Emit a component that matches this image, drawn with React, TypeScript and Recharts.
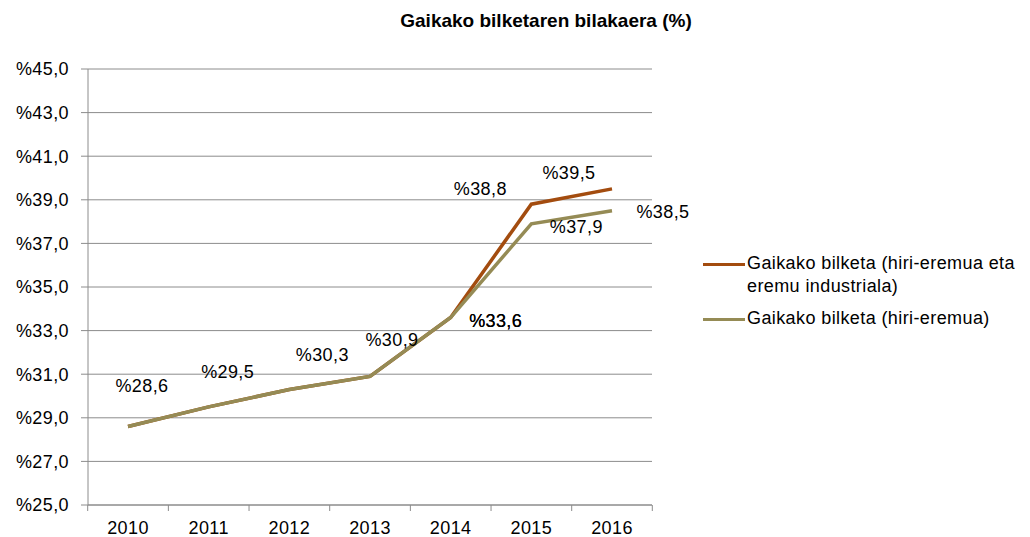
import React from 'react';
import { LineChart, Line, XAxis, YAxis, CartesianGrid, LabelList } from 'recharts';

const years = ['2010', '2011', '2012', '2013', '2014', '2015', '2016'];
const urbanIndustrial = [28.6, 29.5, 30.3, 30.9, 33.6, 38.8, 39.5];
const urbanOnly = [28.6, 29.5, 30.3, 30.9, 33.6, 37.9, 38.5];
const yTicks = [25, 27, 29, 31, 33, 35, 37, 39, 41, 43, 45];

const seriesNames = [
  ['Gaikako bilketa (hiri-eremua eta', 'eremu industriala)'],
  ['Gaikako bilketa (hiri-eremua)'],
];

const data = years.map((year, i) => ({ year, a: urbanIndustrial[i], b: urbanOnly[i] }));

const BROWN = '#a34c0f';
const OLIVE = '#958b55';
const GRID = '#8c8c8c';
const FONT = 'Arial, "Liberation Sans", sans-serif';
const LS = 0.4;
const HALF_BAND = 40.3;

// label offsets (dx, dy) from the point, by index
const offsetsA: ([number, number] | null)[] = [
  [14, -41], [19, -35], [33, -34], [22, -36], [45, 3], [-51, -15], [-43, -16],
];
const offsetsB: ([number, number] | null)[] = [
  null, null, null, null, [45, 3], [45, 3], [51, 1],
];

const fmt = (v: number) => '%' + v.toFixed(1).replace('.', ',');

const makeLabel = (offsets: ([number, number] | null)[]) => (props: any) => {
  const { x, y, value, index } = props;
  const off = offsets[index];
  if (!off) return null;
  return (
    <text
      x={x + off[0]}
      y={y + off[1]}
      textAnchor="middle"
      dominantBaseline="central"
      fontSize={18}
      letterSpacing={LS}
      fontFamily={FONT}
      fill="#000"
    >
      {fmt(value)}
    </text>
  );
};

const XTick = (props: any) => {
  const { x, y, payload, index } = props;
  return (
    <g>
      <line x1={x - HALF_BAND} y1={y} x2={x - HALF_BAND} y2={y + 6} stroke={GRID} />
      {index === years.length - 1 && (
        <line x1={x + HALF_BAND} y1={y} x2={x + HALF_BAND} y2={y + 6} stroke={GRID} />
      )}
      <text
        x={x}
        y={y + 29}
        textAnchor="middle"
        fontSize={18}
        letterSpacing={LS}
        fontFamily={FONT}
        fill="#000"
      >
        {payload.value}
      </text>
    </g>
  );
};

const LegendItem = ({ color, lines, top }: { color: string; lines: string[]; top: number }) => (
  <div style={{ position: 'absolute', left: 703, top, display: 'flex', alignItems: 'flex-start' }}>
    <div style={{ width: 42, height: 3, background: color, marginTop: 10, flexShrink: 0 }} />
    <div
      style={{
        marginLeft: 2,
        fontSize: 18,
        letterSpacing: LS,
        lineHeight: '23px',
        fontFamily: FONT,
        whiteSpace: 'nowrap',
        marginTop: -1,
      }}
    >
      {lines.map((l) => (
        <div key={l}>{l}</div>
      ))}
    </div>
  </div>
);

export default function App() {
  return (
    <div style={{ position: 'absolute', left: 0, top: 0, width: 1030, height: 537, background: '#fff', overflow: 'hidden' }}>
      <div
        style={{
          position: 'absolute',
          left: 0,
          width: 1092,
          top: 10,
          textAlign: 'center',
          fontFamily: FONT,
          fontWeight: 'bold',
          fontSize: 19,
        }}
      >
        Gaikako bilketaren bilakaera (%)
      </div>
      <LineChart
        width={1030}
        height={537}
        data={data}
        margin={{ top: 69, right: 378, bottom: 0, left: 0 }}
      >
        <CartesianGrid vertical={false} stroke={GRID} />
        <XAxis
          dataKey="year"
          height={32}
          padding={{ left: 40, right: 40 }}
          stroke={GRID}
          tickLine={false}
          tickSize={0}
          tickMargin={0}
          interval={0}
          tick={<XTick />}
        />
        <YAxis
          width={88}
          domain={[25, 45]}
          ticks={yTicks}
          interval={0}
          stroke={GRID}
          tickSize={7}
          tickMargin={12}
          tickFormatter={fmt}
          tick={{ fill: '#000', fontSize: 18, fontFamily: FONT, letterSpacing: LS }}
        />
        <Line
          type="linear"
          dataKey="a"
          stroke={BROWN}
          strokeWidth={3.5}
          dot={false}
          isAnimationActive={false}
        >
          <LabelList dataKey="a" content={makeLabel(offsetsA)} />
        </Line>
        <Line
          type="linear"
          dataKey="b"
          stroke={OLIVE}
          strokeWidth={3.5}
          dot={false}
          isAnimationActive={false}
        >
          <LabelList dataKey="b" content={makeLabel(offsetsB)} />
        </Line>
      </LineChart>
      <LegendItem color={BROWN} lines={seriesNames[0]} top={253} />
      <LegendItem color={OLIVE} lines={seriesNames[1]} top={308} />
    </div>
  );
}
